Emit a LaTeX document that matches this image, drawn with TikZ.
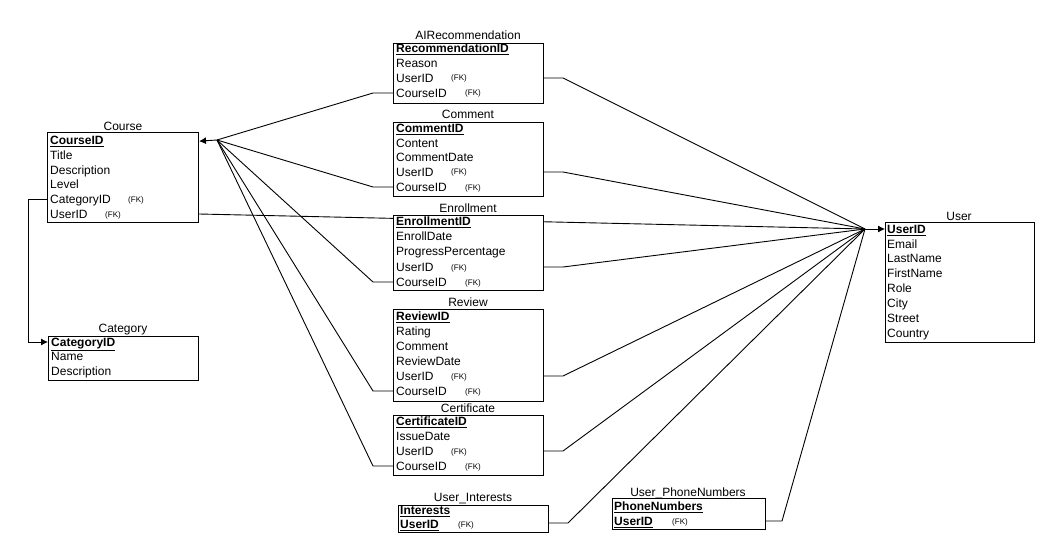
\documentclass[tikz,border=0pt]{standalone}
\usepackage{fontspec}
\setmainfont{Liberation Sans}
\usetikzlibrary{arrows.meta,backgrounds}
\tikzset{
  ebox/.style={draw,fill=white,line width=1pt,inner sep=0pt,anchor=north west},
  etitle/.style={anchor=base,inner sep=0pt,font=\fontsize{12}{14}\selectfont},
  erow/.style={anchor=base west,inner sep=0pt,font=\fontsize{12}{14}\selectfont},
  fk/.style={anchor=base west,inner sep=0pt,font=\fontsize{8}{9}\selectfont},
  conn/.style={draw,line width=0.9pt},
  tipend/.style={-{Latex[length=7pt,width=7pt]}}
}
\newcommand\pk[1]{\textbf{\underline{#1}}}
\begin{document}
\begin{tikzpicture}[x=1pt,y=-1pt]
\useasboundingbox (0,0) rectangle (1060,559);

% ---------- Course
\node[etitle] (course-t) at (123,126+4.3) {Course};
\node[ebox,minimum width=151pt,minimum height=90pt] (course) at (47,132) {};
\node[erow] (course-1) at (50,140+4.3) {\pk{CourseID}};
\node[erow] (course-2) at (50,155+4.3) {Title};
\node[erow] (course-3) at (50,170+4.3) {Description};
\node[erow] (course-4) at (50,184+4.3) {Level};
\node[erow] (course-5) at (50,199+4.3) {CategoryID};
\node[fk] (course-5fk) at (128,199+3) {(FK)};
\node[erow] (course-6) at (50,214+4.3) {UserID};
\node[fk] (course-6fk) at (105,214+3) {(FK)};

% ---------- Category
\node[etitle] (cat-t) at (123,328+4.3) {Category};
\node[ebox,minimum width=150pt,minimum height=44pt] (cat) at (48,336) {};
\node[erow] (cat-1) at (51,342+4.3) {\pk{CategoryID}};
\node[erow] (cat-2) at (51,356+4.3) {Name};
\node[erow] (cat-3) at (51,371+4.3) {Description};

% ---------- AIRecommendation
\node[etitle] (airec-t) at (468,35+4.3) {AIRecommendation};
\node[ebox,minimum width=150pt,minimum height=60pt] (airec) at (393,43) {};
\node[erow] (airec-1) at (396,48+4.3) {\pk{RecommendationID}};
\node[erow] (airec-2) at (396,63+4.3) {Reason};
\node[erow] (airec-3) at (396,78+4.3) {UserID};
\node[fk] (airec-3fk) at (451,78+3) {(FK)};
\node[erow] (airec-4) at (396,93+4.3) {CourseID};
\node[fk] (airec-4fk) at (465,93+3) {(FK)};

% ---------- Comment
\node[etitle] (com-t) at (468,114+4.3) {Comment};
\node[ebox,minimum width=150pt,minimum height=74pt] (com) at (393,122) {};
\node[erow] (com-1) at (396,128+4.3) {\pk{CommentID}};
\node[erow] (com-2) at (396,143+4.3) {Content};
\node[erow] (com-3) at (396,157+4.3) {CommentDate};
\node[erow] (com-4) at (396,172+4.3) {UserID};
\node[fk] (com-4fk) at (451,172+3) {(FK)};
\node[erow] (com-5) at (396,187+4.3) {CourseID};
\node[fk] (com-5fk) at (465,187+3) {(FK)};

% ---------- Enrollment
\node[etitle] (enr-t) at (468,208+4.3) {Enrollment};
\node[ebox,minimum width=150pt,minimum height=75pt] (enr) at (393,215) {};
\node[erow] (enr-1) at (396,221+4.3) {\pk{EnrollmentID}};
\node[erow] (enr-2) at (396,236+4.3) {EnrollDate};
\node[erow] (enr-3) at (396,251+4.3) {ProgressPercentage};
\node[erow] (enr-4) at (396,267+4.3) {UserID};
\node[fk] (enr-4fk) at (451,267+3) {(FK)};
\node[erow] (enr-5) at (396,282+4.3) {CourseID};
\node[fk] (enr-5fk) at (465,282+3) {(FK)};

% ---------- Review
\node[etitle] (rev-t) at (468,302+4.3) {Review};
\node[ebox,minimum width=150pt,minimum height=92pt] (rev) at (393,309) {};
\node[erow] (rev-1) at (396,316+4.3) {\pk{ReviewID}};
\node[erow] (rev-2) at (396,331+4.3) {Rating};
\node[erow] (rev-3) at (396,346+4.3) {Comment};
\node[erow] (rev-4) at (396,361+4.3) {ReviewDate};
\node[erow] (rev-5) at (396,376+4.3) {UserID};
\node[fk] (rev-5fk) at (451,376+3) {(FK)};
\node[erow] (rev-6) at (396,391+4.3) {CourseID};
\node[fk] (rev-6fk) at (465,391+3) {(FK)};

% ---------- Certificate
\node[etitle] (cer-t) at (468,408+4.3) {Certificate};
\node[ebox,minimum width=150pt,minimum height=60pt] (cer) at (393,415) {};
\node[erow] (cer-1) at (396,421+4.3) {\pk{CertificateID}};
\node[erow] (cer-2) at (396,436+4.3) {IssueDate};
\node[erow] (cer-3) at (396,451+4.3) {UserID};
\node[fk] (cer-3fk) at (451,451+3) {(FK)};
\node[erow] (cer-4) at (396,466+4.3) {CourseID};
\node[fk] (cer-4fk) at (465,466+3) {(FK)};

% ---------- User
\node[etitle] (user-t) at (959,216+4.3) {User};
\node[ebox,minimum width=149pt,minimum height=120pt] (user) at (885,222) {};
\node[erow] (user-1) at (887,229+4.3) {\pk{UserID}};
\node[erow] (user-2) at (887,244+4.3) {Email};
\node[erow] (user-3) at (887,258+4.3) {LastName};
\node[erow] (user-4) at (887,273+4.3) {FirstName};
\node[erow] (user-5) at (887,288+4.3) {Role};
\node[erow] (user-6) at (887,303+4.3) {City};
\node[erow] (user-7) at (887,318+4.3) {Street};
\node[erow] (user-8) at (887,333+4.3) {Country};

% ---------- User_Interests
\node[etitle] (int-t) at (473,497+4.3) {User\_Interests};
\node[ebox,minimum width=150pt,minimum height=27pt] (int) at (398,505) {};
\node[erow] (int-1) at (400,510+4.3) {\pk{Interests}};
\node[erow] (int-2) at (400,524+4.3) {\pk{UserID}};
\node[fk] (int-2fk) at (458,524+3) {(FK)};

% ---------- User_PhoneNumbers
\node[etitle] (ph-t) at (688,492+4.3) {User\_PhoneNumbers};
\node[ebox,minimum width=153pt,minimum height=31pt] (ph) at (612,498) {};
\node[erow] (ph-1) at (614,506+4.3) {\pk{PhoneNumbers}};
\node[erow] (ph-2) at (614,521+4.3) {\pk{UserID}};
\node[fk] (ph-2fk) at (672,521+3) {(FK)};

% ---------- junction / bend points
\coordinate (cj) at (217,140);
\coordinate (uj) at (865,229);
\coordinate (catbend1) at (28,199);
\coordinate (catbend2) at (28,342);

\begin{pgfonlayer}{background}
% arrows into Course and User
\draw[conn,tipend] (cj) -- (course.east |- course-1.west);
\draw[conn,tipend] (uj) -- (user.west |- uj);
% Course -> Category
\draw[conn,tipend] (course.west |- catbend1) -- (catbend1) -- (catbend2) -- (cat.west |- catbend2);
% CourseID foreign keys
\draw[conn] (airec.west |- 0,93) -- (373,93) -- (cj);
\draw[conn] (com.west |- 0,187) -- (373,187) -- (cj);
\draw[conn] (enr.west |- 0,282) -- (373,282) -- (cj);
\draw[conn] (rev.west |- 0,391) -- (373,391) -- (cj);
\draw[conn] (cer.west |- 0,466) -- (373,466) -- (cj);
% UserID foreign keys
\draw[conn] (airec.east |- 0,78) -- (563,78) -- (uj);
\draw[conn] (com.east |- 0,172) -- (563,172) -- (uj);
\draw[conn] (enr.east |- 0,267) -- (563,267) -- (uj);
\draw[conn] (rev.east |- 0,376) -- (563,376) -- (uj);
\draw[conn] (cer.east |- 0,451) -- (563,451) -- (uj);
\draw[conn] (int.east |- 0,523) -- (568,523) -- (uj);
\draw[conn] (ph.east |- 0,521) -- (782,521) -- (uj);
\draw[conn] (course.east |- 0,214) -- (uj);
\end{pgfonlayer}
\end{tikzpicture}
\end{document}
